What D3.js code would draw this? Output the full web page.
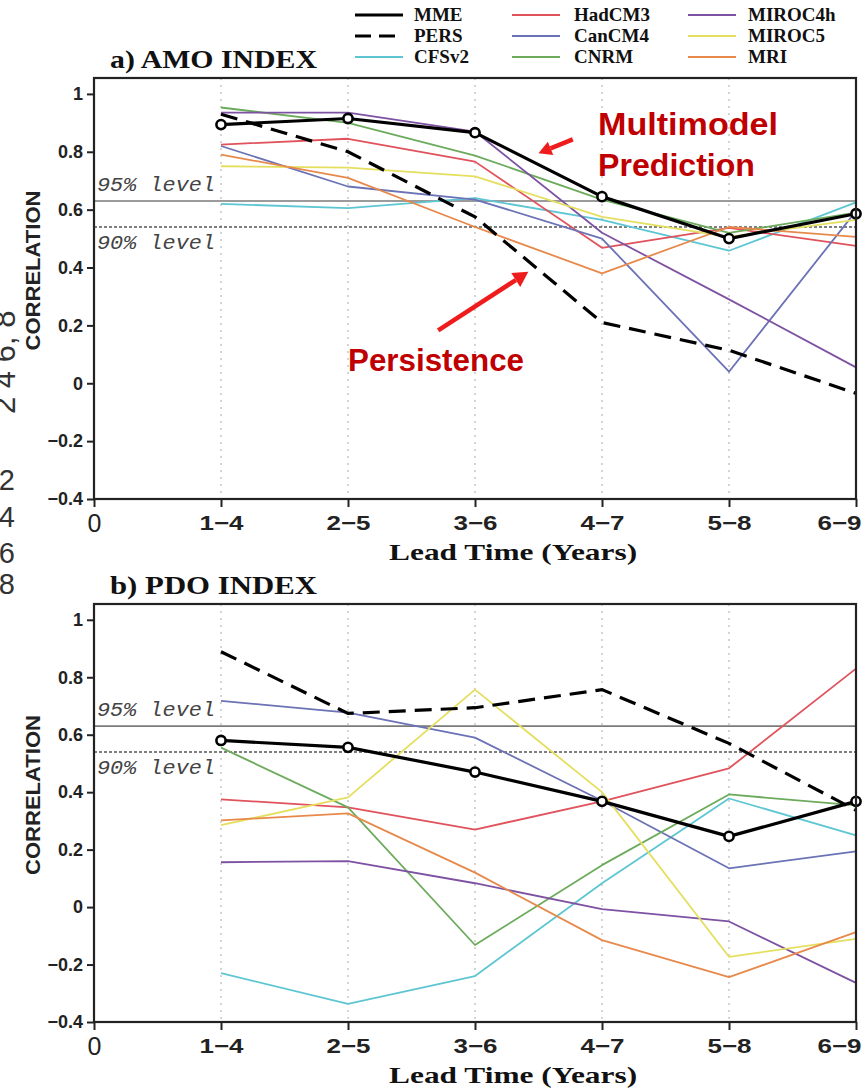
<!DOCTYPE html>
<html>
<head>
<meta charset="utf-8">
<script src="https://cdn.jsdelivr.net/npm/d3@7"></script>
<style>
  html, body { margin: 0; padding: 0; background: #fff; }
  svg { display: block; }
</style>
</head>
<body>
<svg id="chart" width="868" height="1090"></svg>
<script>
// ---------- data ----------
const leadLabels = ["1\u22124", "2\u22125", "3\u22126", "4\u22127", "5\u22128", "6\u22129"];
const yTickValues = [-0.4, -0.2, 0, 0.2, 0.4, 0.6, 0.8, 1];
const modelNames = ["CFSv2", "HadCM3", "CanCM4", "CNRM", "MIROC4h", "MIROC5", "MRI"];
const modelColors = ["#5ec6d2", "#e0525c", "#6b72b6", "#6cab5c", "#7e52a2", "#e4df5e", "#e8894c"];
const sigLevels = [0.63, 0.54];
const sigLabels = ["95% level", "90% level"];

// AMO index correlations
const amoMME     = [0.894, 0.915, 0.866, 0.645, 0.500, 0.586];
const amoPERS    = [0.930, 0.800, 0.575, 0.210, 0.114, -0.035];
const amoCFSv2   = [0.620, 0.605, 0.640, 0.565, 0.458, 0.625];
const amoHadCM3  = [0.825, 0.845, 0.766, 0.468, 0.537, 0.475];
const amoCanCM4  = [0.820, 0.680, 0.635, 0.500, 0.040, 0.595];
const amoCNRM    = [0.953, 0.900, 0.787, 0.635, 0.520, 0.590];
const amoMIROC4h = [0.935, 0.935, 0.870, 0.520, 0.290, 0.055];
const amoMIROC5  = [0.750, 0.745, 0.715, 0.575, 0.506, 0.565];
const amoMRI     = [0.790, 0.710, 0.540, 0.380, 0.540, 0.506];

// PDO index correlations
const pdoMME     = [0.580, 0.556, 0.470, 0.368, 0.246, 0.368];
const pdoPERS    = [0.889, 0.674, 0.694, 0.757, 0.570, 0.337];
const pdoCFSv2   = [-0.230, -0.337, -0.240, 0.083, 0.378, 0.250];
const pdoHadCM3  = [0.375, 0.347, 0.270, 0.368, 0.483, 0.830];
const pdoCanCM4  = [0.718, 0.677, 0.590, 0.370, 0.135, 0.194];
const pdoCNRM    = [0.555, 0.347, -0.132, 0.146, 0.392, 0.354];
const pdoMIROC4h = [0.156, 0.160, 0.083, -0.007, -0.050, -0.264];
const pdoMIROC5  = [0.285, 0.382, 0.757, 0.400, -0.173, -0.111];
const pdoMRI     = [0.302, 0.326, 0.120, -0.115, -0.244, -0.087];

const amoModels = [amoCFSv2, amoHadCM3, amoCanCM4, amoCNRM, amoMIROC4h, amoMIROC5, amoMRI];
const pdoModels = [pdoCFSv2, pdoHadCM3, pdoCanCM4, pdoCNRM, pdoMIROC4h, pdoMIROC5, pdoMRI];

// ---------- drawing ----------
const svg = d3.select("#chart");
const SERIF = "'Liberation Serif', 'DejaVu Serif', serif";
const SANS = "'Liberation Sans', Arial, sans-serif";
const MONO = "'Liberation Mono', 'DejaVu Sans Mono', monospace";

const x = d3.scaleLinear().domain([0, 6]).range([94, 856]);

function panel(opts) {
  const y = d3.scaleLinear().domain([-0.4, 1.055]).range([opts.bottom, opts.top]);
  const g = svg.append("g");
  const [x0, x1] = x.range();

  // vertical dotted grid
  g.selectAll(".vgrid").data(d3.range(1, 7)).join("line")
    .attr("x1", d => x(d)).attr("x2", d => x(d))
    .attr("y1", opts.top).attr("y2", opts.bottom)
    .attr("stroke", "#b8b8b8").attr("stroke-width", 1.2).attr("stroke-dasharray", "2,5");

  // significance lines
  g.append("line").attr("x1", x0).attr("x2", x1)
    .attr("y1", y(sigLevels[0])).attr("y2", y(sigLevels[0]))
    .attr("stroke", "#7a7a7a").attr("stroke-width", 1.6);
  g.append("line").attr("x1", x0).attr("x2", x1)
    .attr("y1", y(sigLevels[1])).attr("y2", y(sigLevels[1]))
    .attr("stroke", "#555").attr("stroke-width", 1.6).attr("stroke-dasharray", "3,2");
  g.append("text").attr("x", 97).attr("y", y(sigLevels[0]) - 10)
    .attr("font-family", MONO).attr("font-style", "italic").attr("font-size", 21)
    .attr("fill", "#444").attr("textLength", 118).attr("lengthAdjust", "spacingAndGlyphs")
    .text(sigLabels[0]);
  g.append("text").attr("x", 97).attr("y", y(sigLevels[1]) + 22)
    .attr("font-family", MONO).attr("font-style", "italic").attr("font-size", 21)
    .attr("fill", "#444").attr("textLength", 118).attr("lengthAdjust", "spacingAndGlyphs")
    .text(sigLabels[1]);

  const line = d3.line().x((d, i) => x(i + 1)).y(d => y(d));

  // model lines
  opts.models.forEach((vals, k) => {
    g.append("path").datum(vals).attr("d", line)
      .attr("fill", "none").attr("stroke", modelColors[k]).attr("stroke-width", 1.8)
      .attr("stroke-linejoin", "round");
  });

  // persistence
  g.append("path").datum(opts.pers).attr("d", line)
    .attr("fill", "none").attr("stroke", "#000").attr("stroke-width", 3.2)
    .attr("stroke-dasharray", "17,9");

  // MME
  g.append("path").datum(opts.mme).attr("d", line)
    .attr("fill", "none").attr("stroke", "#000").attr("stroke-width", 3.2)
    .attr("stroke-linejoin", "round");
  g.selectAll(".mmept").data(opts.mme).join("circle")
    .attr("cx", (d, i) => x(i + 1)).attr("cy", d => y(d)).attr("r", 4.6)
    .attr("fill", "#fff").attr("stroke", "#000").attr("stroke-width", 2.6);

  // frame
  g.append("rect").attr("x", x0).attr("y", opts.top)
    .attr("width", x1 - x0).attr("height", opts.bottom - opts.top)
    .attr("fill", "none").attr("stroke", "#222").attr("stroke-width", 2.2);

  // y axis
  const ya = g.append("g").attr("transform", `translate(${x0},0)`)
    .call(d3.axisLeft(y).tickValues(yTickValues).tickFormat(d3.format("~g"))
      .tickSizeInner(7).tickSizeOuter(0).tickPadding(4));
  ya.select(".domain").remove();
  ya.selectAll(".tick line").attr("stroke", "#222").attr("stroke-width", 2);
  ya.selectAll(".tick text").attr("font-family", SANS).attr("font-weight", "bold")
    .attr("font-size", 18).attr("fill", "#222");

  // x axis
  const xa = g.append("g").attr("transform", `translate(0,${opts.bottom})`)
    .call(d3.axisBottom(x).tickValues(d3.range(0, 7))
      .tickFormat(i => i === 0 ? "0" : leadLabels[i - 1])
      .tickSizeInner(8).tickSizeOuter(0).tickPadding(9));
  xa.select(".domain").remove();
  xa.selectAll(".tick line").attr("stroke", "#222").attr("stroke-width", 2);
  xa.selectAll(".tick text").attr("font-family", SANS).attr("font-weight", "bold")
    .attr("font-size", 20).attr("fill", "#222")
    .attr("textLength", d => d === 0 ? null : 44).attr("lengthAdjust", "spacingAndGlyphs");
  xa.selectAll(".tick text").filter(d => d === 0)
    .attr("font-size", 25).attr("font-weight", "normal").attr("dy", "0.62em");
  // last label is pulled in so that it stays inside the page
  xa.selectAll(".tick text").filter(d => d === 6)
    .attr("text-anchor", "end").attr("x", 861 - x(6));

  // axis titles
  g.append("text").attr("x", x(3.3)).attr("y", opts.bottom + 61)
    .attr("text-anchor", "middle").attr("font-family", SERIF).attr("font-weight", "bold")
    .attr("font-size", 24).attr("fill", "#111")
    .attr("textLength", 248).attr("lengthAdjust", "spacingAndGlyphs")
    .text("Lead Time (Years)");
  g.append("text")
    .attr("transform", `translate(40,${(opts.top + opts.bottom) / 2 - 18}) rotate(-90)`)
    .attr("text-anchor", "middle").attr("font-family", SANS).attr("font-weight", "bold")
    .attr("font-size", 21).attr("fill", "#222").attr("textLength", 160)
    .attr("lengthAdjust", "spacingAndGlyphs")
    .text("CORRELATION");

  // panel title
  g.append("text").attr("x", 110).attr("y", opts.top - 10)
    .attr("font-family", SERIF).attr("font-weight", "bold").attr("font-size", 25)
    .attr("fill", "#111").attr("textLength", 207).attr("lengthAdjust", "spacingAndGlyphs")
    .text(opts.title);

  return { g, y };
}

const pa = panel({ top: 78, bottom: 499, title: "a) AMO INDEX", mme: amoMME, pers: amoPERS, models: amoModels });
const pb = panel({ top: 604, bottom: 1022, title: "b) PDO INDEX", mme: pdoMME, pers: pdoPERS, models: pdoModels });

// ---------- legend ----------
const legendItems = [
  { name: "MME", col: 0, row: 0, color: "#000", w: 3, dash: null },
  { name: "PERS", col: 0, row: 1, color: "#000", w: 3, dash: "16,8" },
  { name: modelNames[0], col: 0, row: 2, color: modelColors[0], w: 2, dash: null },
  { name: modelNames[1], col: 1, row: 0, color: modelColors[1], w: 2, dash: null },
  { name: modelNames[2], col: 1, row: 1, color: modelColors[2], w: 2, dash: null },
  { name: modelNames[3], col: 1, row: 2, color: modelColors[3], w: 2, dash: null },
  { name: modelNames[4], col: 2, row: 0, color: modelColors[4], w: 2, dash: null },
  { name: modelNames[5], col: 2, row: 1, color: modelColors[5], w: 2, dash: null },
  { name: modelNames[6], col: 2, row: 2, color: modelColors[6], w: 2, dash: null }
];
const colLineX = [355, 512, 688];
const colTextX = [414, 574, 748];
const leg = svg.append("g");
legendItems.forEach(it => {
  const yy = 15 + it.row * 21;
  leg.append("line").attr("x1", colLineX[it.col]).attr("x2", colLineX[it.col] + 48)
    .attr("y1", yy).attr("y2", yy).attr("stroke", it.color).attr("stroke-width", it.w)
    .attr("stroke-dasharray", it.dash);
  leg.append("text").attr("x", colTextX[it.col]).attr("y", yy + 6)
    .attr("font-family", SERIF).attr("font-weight", "bold").attr("font-size", 19)
    .attr("fill", "#111").text(it.name);
});

// ---------- annotations ----------
const ann = svg.append("g");
const red = "#c00000";
ann.append("text").attr("x", 598).attr("y", 135).attr("font-family", SANS)
  .attr("font-weight", "bold").attr("font-size", 31).attr("fill", red)
  .attr("textLength", 180).attr("lengthAdjust", "spacingAndGlyphs").text("Multimodel");
ann.append("text").attr("x", 598).attr("y", 176).attr("font-family", SANS)
  .attr("font-weight", "bold").attr("font-size", 31).attr("fill", red)
  .attr("textLength", 157).attr("lengthAdjust", "spacingAndGlyphs").text("Prediction");
ann.append("text").attr("x", 348).attr("y", 371).attr("font-family", SANS)
  .attr("font-weight", "bold").attr("font-size", 31).attr("fill", red)
  .attr("textLength", 176).attr("lengthAdjust", "spacingAndGlyphs").text("Persistence");

function arrow(x1, y1, x2, y2, head) {
  const ang = Math.atan2(y2 - y1, x2 - x1);
  const bx = x2 - head * Math.cos(ang), by = y2 - head * Math.sin(ang);
  const px = -Math.sin(ang) * head * 0.55, py = Math.cos(ang) * head * 0.55;
  ann.append("line").attr("x1", x1).attr("y1", y1).attr("x2", bx).attr("y2", by)
    .attr("stroke", "#ee1c1c").attr("stroke-width", 4.5);
  ann.append("path")
    .attr("d", `M${x2},${y2}L${bx + px},${by + py}L${bx - px},${by - py}Z`)
    .attr("fill", "#ee1c1c");
}
arrow(x(3.77), pa.y(0.843), x(3.5), pa.y(0.795), 13);
arrow(x(2.71), pa.y(0.183), x(3.42), pa.y(0.385), 15);

// ---------- stray cropped glyphs at left edge ----------
const stray = svg.append("g").attr("font-family", SANS).attr("fill", "#333");
stray.append("text").attr("transform", "translate(15,414) rotate(-90)")
  .attr("font-size", 31).text("2 4 6, 8");
[["2", 490], ["4", 527], ["6", 563], ["8", 594]].forEach(([t, yy]) => {
  stray.append("text").attr("x", 15).attr("y", yy).attr("text-anchor", "end")
    .attr("font-size", 29).text(t);
});
</script>
</body>
</html>
